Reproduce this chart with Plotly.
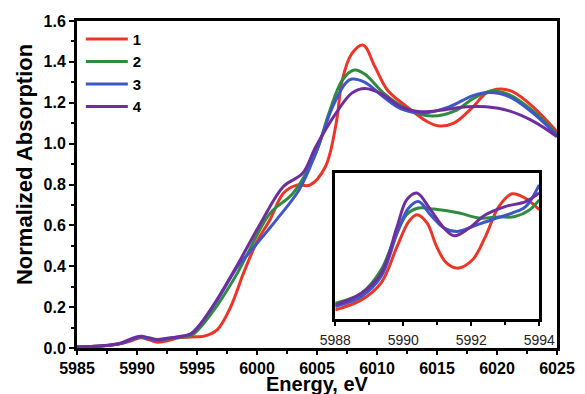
import plotly.graph_objects as go

# ---------------- main spectra ----------------
e1 = [5985, 5987, 5988.5, 5989.5, 5990.3, 5991.0, 5991.7, 5992.5, 5993.5, 5995.0, 5995.6, 5996.7, 5997.8,
      5998.9, 6000.0, 6001.1, 6002.2, 6003.3, 6004.4, 6005.7, 6006.6, 6007.1, 6007.9, 6008.85, 6009.8,
      6010.9, 6012.5, 6014.2, 6015.2, 6016.4, 6018.0, 6019.1, 6020.3, 6021.3, 6023.0, 6025.0]
a1 = [0.005, 0.01, 0.02, 0.035, 0.05, 0.04, 0.028, 0.035, 0.05, 0.055, 0.058, 0.09, 0.20,
      0.37, 0.52, 0.63, 0.757, 0.797, 0.797, 0.887, 1.10, 1.31, 1.44, 1.482, 1.38,
      1.26, 1.18, 1.107, 1.086, 1.10, 1.18, 1.247, 1.267, 1.254, 1.18, 1.058]

e2 = [5985, 5987, 5988.5, 5989.5, 5990.3, 5991.0, 5991.7, 5992.5, 5993.5, 5994.5, 5995.1, 5996.7, 5998.4,
      5999.2, 6001.1, 6003.0, 6004.9, 6006.0, 6007.1, 6008.1, 6009.0, 6010.5, 6012.5, 6014.5, 6016.5,
      6018.0, 6019.5, 6021.0, 6023.0, 6025.0]
a2 = [0.005, 0.01, 0.02, 0.04, 0.055, 0.048, 0.04, 0.045, 0.052, 0.06, 0.09, 0.21, 0.37,
      0.46, 0.66, 0.757, 0.954, 1.15, 1.31, 1.36, 1.34, 1.25, 1.17, 1.135, 1.16,
      1.22, 1.257, 1.24, 1.16, 1.045]

e3 = [5985, 5987, 5988.5, 5989.5, 5990.3, 5991.0, 5991.7, 5992.5, 5993.5, 5994.5, 5995.1, 5996.7, 5998.4,
      5999.4, 6001.6, 6003.5, 6004.9, 6006.3, 6007.4, 6007.9, 6009.0, 6010.5, 6012.0, 6013.9, 6016.0,
      6018.0, 6019.4, 6021.0, 6023.0, 6025.0]
a3 = [0.005, 0.01, 0.02, 0.04, 0.055, 0.045, 0.038, 0.045, 0.055, 0.07, 0.104, 0.235, 0.40,
      0.47, 0.626, 0.773, 0.954, 1.18, 1.297, 1.316, 1.30, 1.23, 1.17, 1.15, 1.18,
      1.235, 1.25, 1.23, 1.15, 1.04]

e4 = [5985, 5987, 5988.5, 5989.5, 5990.3, 5991.0, 5991.7, 5992.5, 5993.5, 5994.5, 5995.1, 5996.7, 5998.4,
      6000.3, 6002.2, 6003.8, 6004.9, 6006.6, 6007.9, 6009.0, 6010.5, 6012.0, 6013.7, 6015.5, 6017.5,
      6019.1, 6021.0, 6023.0, 6025.0]
a4 = [0.005, 0.01, 0.022, 0.045, 0.058, 0.05, 0.042, 0.048, 0.055, 0.07, 0.104, 0.24, 0.41,
      0.61, 0.79, 0.855, 0.985, 1.15, 1.247, 1.27, 1.24, 1.18, 1.156, 1.165, 1.18,
      1.18, 1.16, 1.11, 1.034]

# ---------------- inset (pre-edge) ----------------
ie1 = [5988.0, 5988.77, 5989.35, 5989.82, 5990.16, 5990.4, 5990.7, 5990.98, 5991.27, 5991.6, 5992.04,
       5992.42, 5992.81, 5993.2, 5993.58, 5994.0]
ia1 = [0.0093, 0.0141, 0.0223, 0.0397, 0.0516, 0.0549, 0.0510, 0.0397, 0.0318, 0.0293, 0.0333,
       0.0445, 0.0588, 0.0649, 0.0629, 0.0573]
ie2 = [5988.0, 5988.77, 5989.35, 5989.73, 5990.1, 5990.45, 5990.9, 5991.65, 5992.23, 5992.81, 5993.29,
       5993.7, 5994.0]
ia2 = [0.0125, 0.0173, 0.0285, 0.0429, 0.0549, 0.0581, 0.0576, 0.0557, 0.0533, 0.0538, 0.0540,
       0.0570, 0.0620]
ie3 = [5988.0, 5988.77, 5989.35, 5989.82, 5990.16, 5990.45, 5990.8, 5991.2, 5991.6, 5992.04, 5992.6,
       5993.2, 5993.6, 5994.0]
ia3 = [0.0109, 0.0157, 0.0253, 0.0461, 0.0581, 0.0612, 0.0549, 0.0485, 0.0469, 0.0492, 0.0525,
       0.0557, 0.0588, 0.0692]
ie4 = [5988.0, 5988.77, 5989.35, 5989.82, 5990.1, 5990.4, 5990.8, 5991.2, 5991.5, 5991.94, 5992.42,
       5993.0, 5993.6, 5994.0]
ia4 = [0.0117, 0.0173, 0.0269, 0.0492, 0.0620, 0.0653, 0.0573, 0.0485, 0.0448, 0.0485, 0.0549,
       0.0588, 0.0612, 0.0653]

names = ["1", "2", "3", "4"]
colors = ["#EC3526", "#2F8C3F", "#3E57C6", "#6E2E9E"]
main = [(e1, a1), (e2, a2), (e3, a3), (e4, a4)]
inset = [(ie1, ia1), (ie2, ia2), (ie3, ia3), (ie4, ia4)]
x_title = "Energy, eV"
y_title = "Normalized Absorption"

FONT = "Liberation Sans, Arial, sans-serif"

fig = go.Figure()
for i, (x, y) in enumerate(main):
    fig.add_trace(go.Scatter(x=x, y=y, mode="lines", name=names[i],
                             line=dict(color=colors[i], width=3, shape="spline", smoothing=1.0)))
for i, (x, y) in enumerate(inset):
    fig.add_trace(go.Scatter(x=x, y=y, mode="lines", showlegend=False, xaxis="x2", yaxis="y2",
                             line=dict(color=colors[i], width=3, shape="spline", smoothing=1.0)))

fig.update_layout(
    width=585, height=394,
    margin=dict(l=77, r=19, t=21, b=46),
    paper_bgcolor="white", plot_bgcolor="white",
    font=dict(family=FONT, color="black"),
    showlegend=True,
    legend=dict(x=0.008, y=0.995, xanchor="left", yanchor="top", bgcolor="rgba(0,0,0,0)",
                font=dict(family=FONT, size=15, weight="bold"), itemwidth=42),
    xaxis=dict(range=[5985, 6025], domain=[0, 1], showgrid=False, zeroline=False, automargin=False,
               showline=True, linecolor="black", linewidth=3, mirror=True,
               ticks="outside", ticklen=4, tickwidth=2, tickcolor="black", dtick=5, tick0=5985,
               minor=dict(ticks="outside", ticklen=3, tickwidth=2, tickcolor="black", dtick=2.5),
               tickfont=dict(family=FONT, size=16, weight="bold")),
    yaxis=dict(range=[0, 1.6], domain=[0, 1], showgrid=False, zeroline=False, automargin=False,
               showline=True, linecolor="black", linewidth=3, mirror=True,
               ticks="outside", ticklen=5, tickwidth=2, tickcolor="black", dtick=0.2, tick0=0,
               tickformat=".1f",
               minor=dict(ticks="outside", ticklen=3, tickwidth=2, tickcolor="black", dtick=0.1),
               tickfont=dict(family=FONT, size=16, weight="bold")),
    xaxis2=dict(range=[5988, 5994], domain=[0.538, 0.963], anchor="y2", showgrid=False, zeroline=False,
                showline=True, linecolor="black", linewidth=2.5, mirror=True,
                ticks="outside", ticklen=4, tickwidth=1.5, tickcolor="black", dtick=2, tick0=5988,
                minor=dict(ticks="outside", ticklen=3, tickwidth=1.5, tickcolor="black", dtick=1),
                ticklabelstandoff=3,
                tickfont=dict(family=FONT, size=14, color="#222")),
    yaxis2=dict(range=[0.005, 0.075], domain=[0.089, 0.536], anchor="x2", showgrid=False, zeroline=False,
                showline=True, linecolor="black", linewidth=2.5, mirror=True,
                showticklabels=False, ticks=""),
    annotations=[
        dict(text=x_title, xref="paper", yref="paper", x=0.501, y=-0.069, xanchor="center", yanchor="top",
             showarrow=False, font=dict(family=FONT, size=20, weight="bold")),
        dict(text=y_title, xref="paper", yref="paper", x=-0.108, y=0.56, xanchor="center", yanchor="middle",
             textangle=-90, showarrow=False, font=dict(family=FONT, size=22, weight="bold")),
    ],
)

fig.write_html("out.html")
